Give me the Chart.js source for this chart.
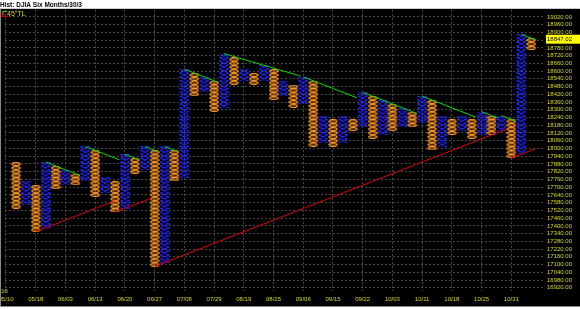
<!DOCTYPE html>
<html>
<head>
<meta charset="utf-8">
<script src="https://cdn.jsdelivr.net/npm/chart.js@4.4.1/dist/chart.umd.min.js"></script>
<style>
  html, body { margin: 0; padding: 0; background: #000; }
  #wrap { width: 580px; height: 309px; }
</style>
</head>
<body>
<div id="wrap"><canvas id="pfChart"></canvas></div>
<script>
"use strict";

// Point & figure: box 30, reversal 3; columns alternate starting with O
const boxSize = 30;
const firstColumnType = "O";
const columnTop = [
    17880, 17730, 17700, 17880, 17850, 17820, 17790, 18000, 17970, 17760,
    17730, 17940, 17910, 18000, 17970, 18000, 17970, 18600, 18570, 18540,
    18510, 18720, 18690, 18600, 18570, 18630, 18600, 18510, 18480, 18540,
    18510, 18240, 18210, 18240, 18210, 18420, 18390, 18360, 18330, 18300,
    18270, 18390, 18360, 18240, 18210, 18240, 18210, 18270, 18240, 18240,
    18210, 18870, 18840,
];
const columnBottom = [
    17550, 17580, 17370, 17400, 17700, 17730, 17730, 17760, 17640, 17670,
    17520, 17550, 17820, 17850, 17100, 17130, 17760, 17790, 18420, 18450,
    18300, 18330, 18510, 18540, 18510, 18540, 18390, 18420, 18330, 18360,
    18030, 18060, 18030, 18060, 18150, 18180, 18090, 18120, 18150, 18180,
    18180, 18210, 18000, 18030, 18120, 18150, 18090, 18120, 18120, 18150,
    17940, 17970, 18780,
];

// date labels under every third column
const dateColumns = [-1, 2, 5, 8, 11, 14, 17, 20, 23, 26, 29, 32, 35, 38, 41, 44, 47, 50];
const dateLabels = [
    "05/10", "05/18", "06/03", "06/13", "06/20", "06/27", "07/08", "07/29", "08/19",
    "08/25", "09/06", "09/15", "09/22", "10/03", "10/11", "10/18", "10/25", "10/31",
];
const yearLabel = "'16";

// 45 degree trend lines: [column, price] start and end
const supportLines = [
    [[2, 17355], [10, 17595]],
    [[10, 17505], [13.6, 17613]],
    [[14, 17085], [49.5, 18150]],
    [[50, 17925], [52.4, 17997]],
];
const resistanceLines = [
    [[3, 17895], [6.4, 17793]],
    [[7, 18015], [10.4, 17913]],
    [[11, 17955], [12.4, 17913]],
    [[13, 18015], [14.4, 17973]],
    [[15, 18015], [16.4, 17973]],
    [[17, 18615], [20.4, 18513]],
    [[21, 18735], [28.7, 18562]],
    [[29, 18555], [34.4, 18393]],
    [[35, 18435], [40.4, 18273]],
    [[41, 18405], [46.4, 18243]],
    [[47, 18285], [48.6, 18237]],
    [[49, 18255], [50.4, 18213]],
    [[51, 18885], [52.4, 18843]],
];

const lastPrice = 18847.02;

const colors = {
    x: "#2424ff",
    o: "#ff9624",
    support: "#e00000",
    resistance: "#00dd00",
    grid: "#4a4a4a",
    text: "#d8d820",
};

// marker images for the boxes
function makeXMark() {
    const c = document.createElement("canvas");
    c.width = 10;
    c.height = 4;
    const g = c.getContext("2d");
    g.strokeStyle = colors.x;
    g.lineWidth = 1.3;
    g.beginPath();
    g.moveTo(0.3, 0);
    g.lineTo(9.7, 4);
    g.moveTo(0.3, 4);
    g.lineTo(9.7, 0);
    g.stroke();
    return c;
}
function makeOMark() {
    const c = document.createElement("canvas");
    c.width = 10;
    c.height = 4;
    const g = c.getContext("2d");
    g.strokeStyle = colors.o;
    g.lineWidth = 1.3;
    g.beginPath();
    g.ellipse(5, 2, 4.1, 1.4, 0, 0, Math.PI * 2);
    g.stroke();
    return c;
}

const xBoxes = [];
const oBoxes = [];
columnTop.forEach((top, i) => {
    const isO = (i % 2 === 0) === (firstColumnType === "O");
    for (let p = columnBottom[i]; p <= top; p += boxSize) {
        (isO ? oBoxes : xBoxes).push({ x: i, y: p });
    }
});

const toPoints = (seg) => seg.map(([c, p]) => ({ x: c, y: p }));
const lineSet = (seg, color) => ({
    data: toPoints(seg),
    showLine: true,
    borderColor: color,
    borderWidth: 1,
    pointRadius: 0,
    order: 0,
});

const pfOverlay = {
    id: "pfOverlay",
    beforeDraw(chart) {
        const { ctx, chartArea } = chart;
        ctx.save();
        ctx.fillStyle = "#000";
        ctx.fillRect(0, 0, chart.width, chart.height);
        ctx.fillStyle = "#fff";
        ctx.fillRect(0, 0, chart.width, chartArea.top - 1);
        ctx.restore();
    },
    afterDraw(chart) {
        const { ctx, chartArea, scales } = chart;
        ctx.save();
        // last price marker
        const yp = scales.y.getPixelForValue(lastPrice);
        ctx.fillStyle = "#ffff00";
        ctx.fillRect(chartArea.right + 1, yp - 4.5, chart.width - chartArea.right - 1, 9);
        ctx.fillStyle = "#000";
        ctx.font = "6px 'Liberation Sans'";
        ctx.textBaseline = "middle";
        ctx.fillText(lastPrice.toFixed(2), chartArea.right + 2, yp);
        // year marker
        ctx.fillStyle = colors.text;
        ctx.fillText(yearLabel, 0, chartArea.bottom);
        // legend
        ctx.fillStyle = colors.resistance;
        ctx.fillRect(2, 11, 5, 1);
        ctx.fillStyle = colors.support;
        ctx.fillRect(2, 12, 2, 5);
        ctx.fillRect(2, 16, 5, 1);
        ctx.fillStyle = colors.text;
        ctx.font = "7px 'Liberation Sans'";
        ctx.fillText("45°TL", 7, 14.5);
        // frame
        ctx.fillStyle = "#8a8a8a";
        ctx.fillRect(0, chartArea.top - 1, 1, chart.height - chartArea.top);
        ctx.fillRect(0, 306, chart.width, 1);
        ctx.fillStyle = "#fff";
        ctx.fillRect(0, 307, chart.width, 2);
        ctx.restore();
    },
};

Chart.defaults.font.family = "'Liberation Sans', Arial, sans-serif";
Chart.defaults.font.size = 6;

const ctx = document.getElementById("pfChart").getContext("2d");
const pfChart = new Chart(ctx, {
    type: "scatter",
    data: {
        datasets: [
            ...supportLines.map((s) => lineSet(s, colors.support)),
            ...resistanceLines.map((s) => lineSet(s, colors.resistance)),
            { data: xBoxes, pointStyle: makeXMark(), pointRadius: 4, order: 1 },
            { data: oBoxes, pointStyle: makeOMark(), pointRadius: 4, order: 1 },
        ],
    },
    options: {
        responsive: true,
        maintainAspectRatio: false,
        animation: false,
        events: [],
        layout: { padding: { left: 0, right: 0, top: 0, bottom: 6 } },
        plugins: {
            legend: { display: false },
            tooltip: { enabled: false },
            title: {
                display: true,
                text: "Hist: DJIA Six Months/30/3",
                align: "start",
                color: "#000",
                font: { size: 6.5, weight: "bold" },
                padding: { top: 1, bottom: 1 },
            },
        },
        scales: {
            x: {
                type: "linear",
                min: -1.1,
                max: 53.4,
                afterBuildTicks: (s) => {
                    s.ticks = dateColumns.map((v) => ({ value: v }));
                },
                afterFit: (s) => {
                    s.height = 12;
                    s.paddingLeft = 0;
                    s.paddingRight = 0;
                },
                ticks: {
                    autoSkip: false,
                    maxRotation: 0,
                    padding: 5,
                    color: colors.text,
                    callback: (v) => dateLabels[dateColumns.indexOf(v)],
                },
                grid: { color: colors.grid, drawTicks: false },
                border: { display: false, dash: [2, 2] },
            },
            y: {
                position: "right",
                min: 16895,
                max: 19075,
                afterFit: (s) => {
                    s.width = 35;
                    s.paddingTop = 0;
                    s.paddingBottom = 0;
                },
                ticks: {
                    stepSize: 60,
                    autoSkip: false,
                    includeBounds: false,
                    padding: 2,
                    color: colors.text,
                    callback: (v) => (Math.abs(v - lastPrice) < 30 ? "" : v.toFixed(2)),
                },
                grid: { color: colors.grid, drawTicks: false },
                border: { display: false, dash: [2, 2] },
            },
        },
    },
    plugins: [pfOverlay],
});
</script>
</body>
</html>
